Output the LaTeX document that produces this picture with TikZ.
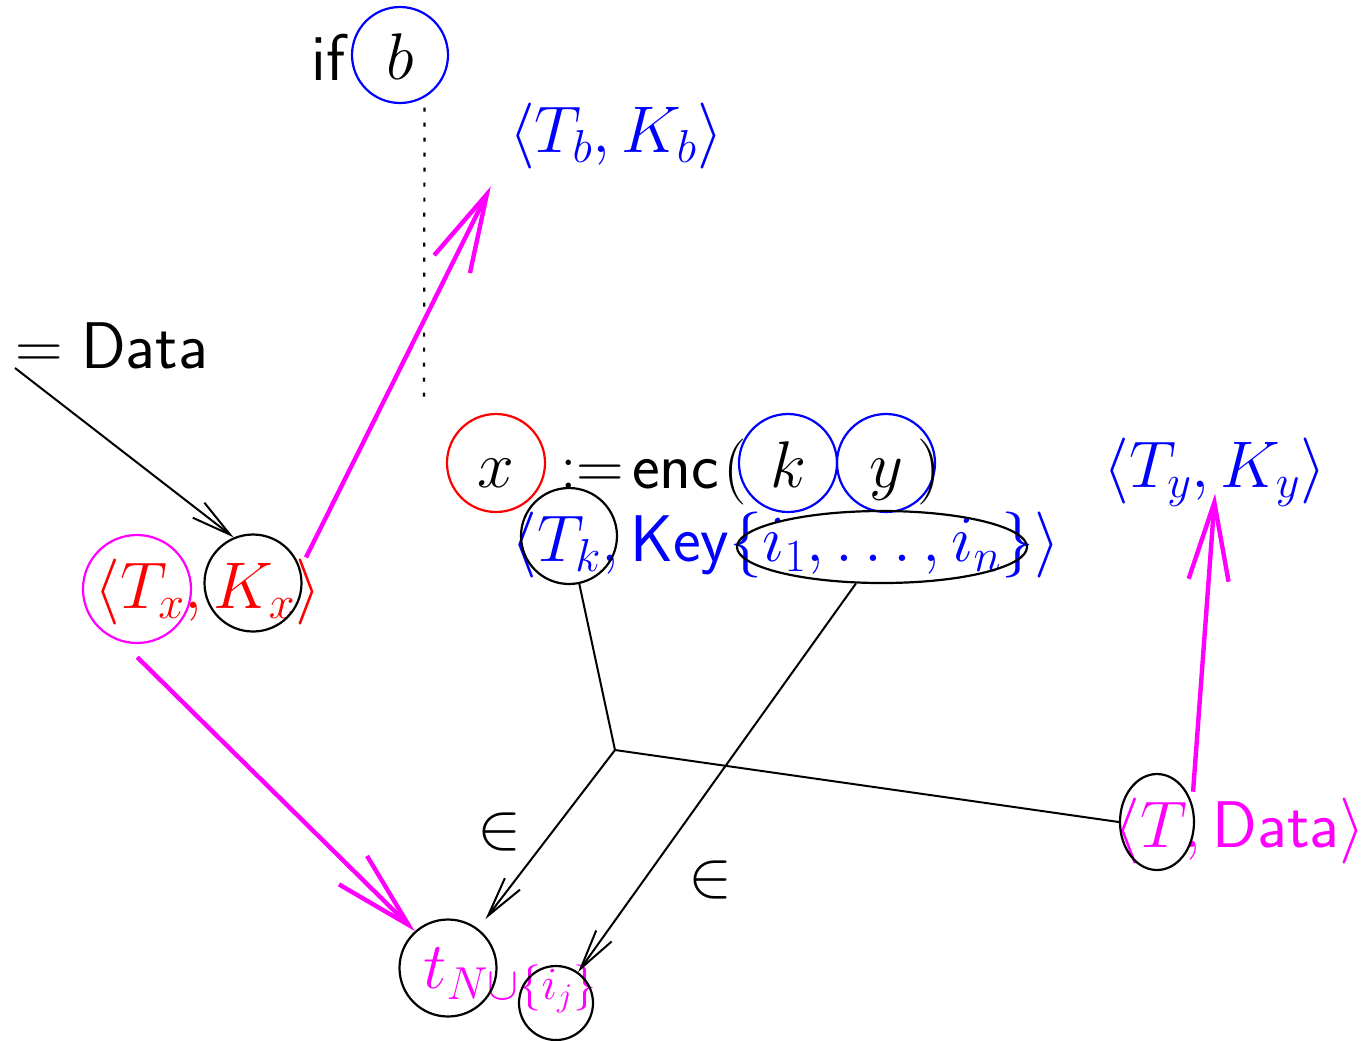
\RequirePackage{fix-cm}
\documentclass[tikz,border=0pt]{standalone}
\usetikzlibrary{arrows.meta,shapes.geometric}
\definecolor{mag}{RGB}{255,0,255}
\begin{document}
\begin{tikzpicture}[x=0.5pt,y=-0.5pt,
  every node/.style={font={\fontsize{33}{40}\selectfont}, inner sep=0pt},
  ring/.style={circle, draw, line width=1.1pt, minimum size=#1},
  txtring/.style={ring=#1, text height=24pt, text depth=0pt},
  oval/.style={ellipse, draw=black, line width=1.1pt},
  thinline/.style={draw=black, line width=1pt},
  blkarrow/.style={thinline, -{Straight Barb[length=20pt,width=9.5pt]}},
  magarrow/.style={draw=mag, line width=2.2pt, -{Straight Barb[length=39pt,width=20pt]}},
  dotline/.style={draw=black, line width=1.1pt, dash pattern=on 2pt off 5.5pt}
]
\useasboundingbox (0,0) rectangle (1366,1040);

% top
\node[anchor=base] (ifT) at (330,80) {\textsf{if}};
\node[txtring=48pt, draw=blue] (cb) at (400,55) {$b$};
\coordinate (dotend) at (424,405);
\node[text=blue] (Tb) at (616,136) {$\langle T_b, K_b\rangle$};

% left
\node[anchor=base west] (eqData) at (15,368) {$=\textsf{Data}$};
\node[text=red] (Tx) at (208,592) {$\langle T_x, K_x\rangle$};
\node[ring=54pt, draw=mag] (cTx) at (137,589) {};
\node[ring=48.5pt] (cKx) at (253,583) {};

% middle
\node[txtring=49pt, draw=red] (cx) at (496,463) {$x$};
\node[anchor=base west] (assign) at (560,488) {$:=$};
\node[anchor=base west] (enc) at (632,488) {\textsf{enc}};
\node[anchor=base] (lpar) at (735,488) {$($};
\node[txtring=49pt, draw=blue] (ck) at (788,463) {$k$};
\node[txtring=49pt, draw=blue] (cy) at (886,463) {$y$};
\node[anchor=base] (rpar) at (929,488) {$)$};
\node[text=blue] (Key) at (786,545) {$\langle T_k, \textsf{Key}\{i_1,\ldots,i_n\}\rangle$};
\node[ring=48pt] (cTk) at (569,536) {};
\node[oval, minimum width=145pt, minimum height=36pt] (cI) at (882,547) {};

% right
\node[text=blue] (Ty) at (1215,472) {$\langle T_y, K_y\rangle$};
\node[text=mag] (Td) at (1240,831) {$\langle T, \textsf{Data}\rangle$};
\node[oval, minimum width=37pt, minimum height=48pt] (cT) at (1157,822) {};

% bottom
\node[anchor=base west, text=mag] (TN) at (423,988) {$t_{N\cup\{i_j\}}$};
\node[ring=48.5pt] (cTN) at (448,968) {};
\node[ring=37pt] (cSm) at (556,1003) {};
\node (in1) at (499,832) {$\in$};
\node (in2) at (710,880) {$\in$};
\coordinate (J) at (615,750);

% connectors
\draw[dotline, shorten <=5pt] (cb.-60) -- (dotend);
\draw[blkarrow] (eqData.base west) -- (cKx.113);
\draw[magarrow, shorten <=6.2pt] (cKx.17) -- ([shift={(-9pt,-8.5pt)}]Tb.south west);
\draw[magarrow, shorten <=10.8pt] (cTx.-106) -- (cTN.132);
\draw[thinline] (cTk) -- (J) -- (cT.west);
\draw[blkarrow, shorten >=6pt] (J) -- (cTN);
\draw[blkarrow] (cI) -- (cSm);
\draw[magarrow, shorten <=5.8pt] (cT.28) -- ([yshift=6.5pt]Ty.south);
\end{tikzpicture}
\end{document}
